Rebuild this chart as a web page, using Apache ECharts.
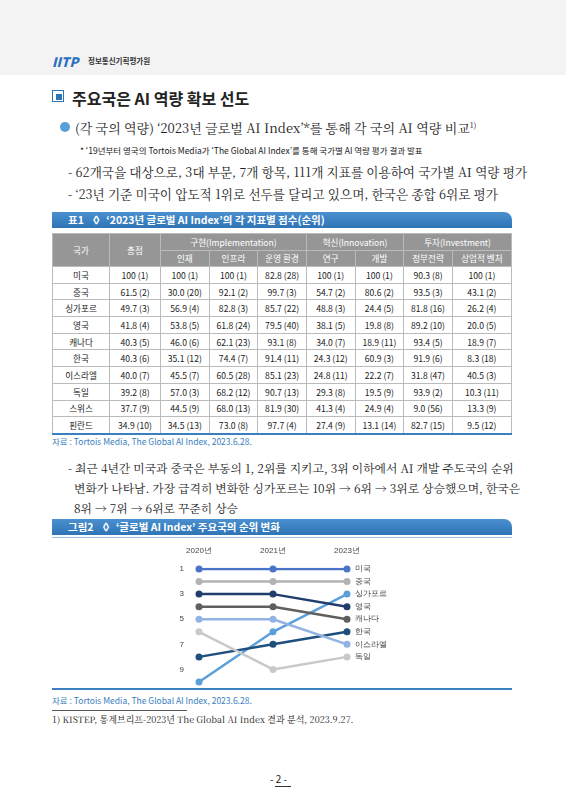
<!DOCTYPE html>
<html><head><meta charset="utf-8">
<script src="https://cdn.jsdelivr.net/npm/echarts@6/dist/echarts.min.js"></script>
<style>
body{margin:0;width:566px;height:800px;position:relative;background:#fff;font-family:"Noto Sans CJK KR","Noto Sans",sans-serif;color:#222;overflow:hidden}
.a{position:absolute;white-space:nowrap}
.ser{font-family:"Noto Serif CJK KR","Noto Sans CJK KR",serif}
.bar{position:absolute;left:52px;width:460px;height:16px;background:linear-gradient(#4a90cf,#2f74b5);border-radius:0 8px 0 0;color:#fff;font-size:10.5px;line-height:16px;font-weight:bold}
table{position:absolute;left:52px;top:233px;width:460px;border-collapse:collapse;font-size:8.6px;text-align:center}
td,th{border:1px solid #bbb;height:15.7px;padding:0}
th{background:#969696;color:#fff;font-weight:normal;height:15.5px}
tr:last-child td{border-bottom:2px solid #3a80c0}
</style></head><body>
<div class="a" style="left:0;top:0;width:566px;height:75px;background:#f3f3f3"></div>
<div class="a" style="left:52px;top:52px;font-size:13px;font-weight:900;font-style:italic;color:#2b6fc1">IITP</div>
<div class="a" style="left:88px;top:55px;font-size:7.5px;font-weight:bold;color:#333">정보통신기획평가원</div>
<div class="a" style="left:52px;top:90px;width:10px;height:10px;border:1.5px solid #2f74b5;background:#fff"></div>
<div class="a" style="left:55.5px;top:93.5px;width:6px;height:6px;background:#2f74b5"></div>
<div class="a" style="left:72px;top:86px;font-size:16px;font-weight:bold">주요국은 AI 역량 확보 선도</div>
<div class="a" style="left:60px;top:122px;width:10px;height:10px;border-radius:50%;background:#5aa0d8"></div>
<div class="a ser" style="left:75px;top:118px;font-size:13px">(각 국의 역량) ‘2023년 글로벌 AI Index’*를 통해 각 국의 AI 역량 비교<sup style="font-size:8px">1)</sup></div>
<div class="a" style="left:80px;top:144px;font-size:8.5px">* ‘19년부터 영국의 Tortois Media가 ‘The Global AI Index’를 통해 국가별 AI 역량 평가 결과 발표</div>
<div class="a ser" style="left:68px;top:162px;font-size:12.6px">- 62개국을 대상으로, 3대 부문, 7개 항목, 111개 지표를 이용하여 국가별 AI 역량 평가</div>
<div class="a ser" style="left:68px;top:184px;font-size:12.6px">- ‘23년 기준 미국이 압도적 1위로 선두를 달리고 있으며, 한국은 종합 6위로 평가</div>
<div class="bar" style="top:212px"><span style="margin-left:16px">표1&nbsp;&nbsp;&nbsp;◊&nbsp;&nbsp;‘2023년 글로벌 AI Index’의 각 지표별 점수(순위)</span></div>
<table id="tb"></table>
<div class="a" style="left:52px;top:435px;font-size:8.5px;color:#3a80c0">자료 : Tortois Media, The Global AI Index, 2023.6.28.</div>
<div class="a ser" style="left:68px;top:458px;font-size:11.8px;line-height:20px">- 최근 4년간 미국과 중국은 부동의 1, 2위를 지키고, 3위 이하에서 AI 개발 주도국의 순위<br>&nbsp;&nbsp;변화가 나타남. 가장 급격히 변화한 싱가포르는 10위 → 6위 → 3위로 상승했으며, 한국은<br>&nbsp;&nbsp;8위 → 7위 → 6위로 꾸준히 상승</div>
<div class="bar" style="top:519px"><span style="margin-left:16px">그림2&nbsp;&nbsp;&nbsp;◊&nbsp;&nbsp;‘글로벌 AI Index’ 주요국의 순위 변화</span></div>
<div class="a" style="left:52px;top:537px;width:460px;height:1px;background:#9cc3e6"></div>
<div id="c" class="a" style="left:0;top:540px;width:566px;height:148px"></div>
<div class="a" style="left:52px;top:688px;width:460px;height:1.5px;background:#3a80c0"></div>
<div class="a" style="left:52px;top:694px;font-size:8.5px;color:#3a80c0">자료 : Tortois Media, The Global AI Index, 2023.6.28.</div>
<div class="a" style="left:52px;top:710px;width:135px;height:1px;background:#555"></div>
<div class="a ser" style="left:52px;top:713px;font-size:9px">1) KISTEP, 통계브리프-2023년 The Global AI Index 결과 분석, 2023.9.27.</div>
<div class="a" style="left:270px;top:771px;font-size:10px">- 2 -</div>
<div class="a" style="left:275px;top:786px;width:16px;height:1px;background:#333"></div>
<script>
const tableCountries=['미국','중국','싱가포르','영국','캐나다','한국','이스라엘','독일','스위스','핀란드'];
const tableRows=[
['100 (1)','100 (1)','100 (1)','82.8 (28)','100 (1)','100 (1)','90.3 (8)','100 (1)'],
['61.5 (2)','30.0 (20)','92.1 (2)','99.7 (3)','54.7 (2)','80.6 (2)','93.5 (3)','43.1 (2)'],
['49.7 (3)','56.9 (4)','82.8 (3)','85.7 (22)','48.8 (3)','24.4 (5)','81.8 (16)','26.2 (4)'],
['41.8 (4)','53.8 (5)','61.8 (24)','79.5 (40)','38.1 (5)','19.8 (8)','89.2 (10)','20.0 (5)'],
['40.3 (5)','46.0 (6)','62.1 (23)','93.1 (8)','34.0 (7)','18.9 (11)','93.4 (5)','18.9 (7)'],
['40.3 (6)','35.1 (12)','74.4 (7)','91.4 (11)','24.3 (12)','60.9 (3)','91.9 (6)','8.3 (18)'],
['40.0 (7)','45.5 (7)','60.5 (28)','85.1 (23)','24.8 (11)','22.2 (7)','31.8 (47)','40.5 (3)'],
['39.2 (8)','57.0 (3)','68.2 (12)','90.7 (13)','29.3 (8)','19.5 (9)','93.9 (2)','10.3 (11)'],
['37.7 (9)','44.5 (9)','68.0 (13)','81.9 (30)','41.3 (4)','24.9 (4)','9.0 (56)','13.3 (9)'],
['34.9 (10)','34.5 (13)','73.0 (8)','97.7 (4)','27.4 (9)','13.1 (14)','82.7 (15)','9.5 (12)']];
let h='<tr><th rowspan=2 style="width:56px">국가</th><th rowspan=2 style="width:50px">총점</th><th colspan=3>구현(Implementation)</th><th colspan=2>혁신(Innovation)</th><th colspan=2>투자(Investment)</th></tr><tr>'+
['인재','인프라','운영 환경','연구','개발','정부전략','상업적 벤처'].map(s=>'<th>'+s+'</th>').join('')+'</tr>';
tableCountries.forEach((c,i)=>{h+='<tr><td>'+c+'</td>'+tableRows[i].map(v=>'<td>'+v+'</td>').join('')+'</tr>';});
document.getElementById('tb').innerHTML=h;

const years=['2020년','2021년','2023년'];
const countries=['미국','중국','싱가포르','영국','캐나다','한국','이스라엘','독일'];
const ranks={'미국':[1,1,1],'중국':[2,2,2],'싱가포르':[10,6,3],'영국':[3,3,4],'캐나다':[4,4,5],'한국':[8,7,6],'이스라엘':[5,5,7],'독일':[6,9,8]};
const colors={'미국':'#4a74c8','중국':'#b3b3b3','싱가포르':'#5a9fda','영국':'#213d6e','캐나다':'#5f5f5f','한국':'#1f4f7e','이스라엘':'#93b4e3','독일':'#c9c9c9'};
const ch=echarts.init(document.getElementById('c'));
ch.setOption({animation:false,
grid:{left:199,right:219,top:29,bottom:6},
xAxis:{type:'category',data:years,position:'top',boundaryGap:false,axisLine:{show:false},axisTick:{show:false},splitLine:{show:false},
 axisLabel:{fontSize:8,color:'#444',margin:14}},
yAxis:{type:'value',inverse:true,min:1,max:10,interval:1,axisLine:{show:false},axisTick:{show:false},splitLine:{show:false},
 axisLabel:{fontSize:8,color:'#444',margin:15,formatter:v=>v%2===1?v:''}},
series:countries.map(c=>({name:c,type:'line',data:ranks[c],symbol:'circle',symbolSize:7,
 lineStyle:{width:2.5,color:colors[c]},itemStyle:{color:colors[c]},
 endLabel:{show:true,formatter:'{a}',fontSize:8,color:'#444',distance:8}}))
});
</script>
</body></html>
